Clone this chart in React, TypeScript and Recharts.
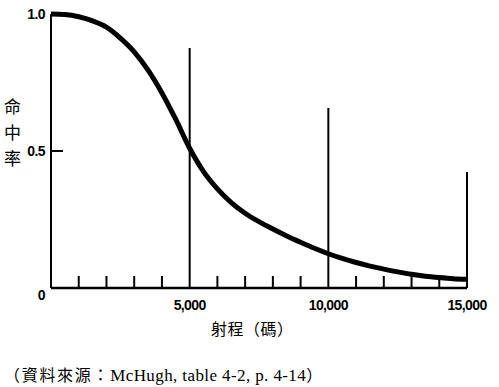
import React from "react";
import { LineChart, Line, XAxis, YAxis, ReferenceLine } from "recharts";

// range in yards
const rangeYards = [0, 500, 1000, 1500, 2000, 2500, 3000, 3500, 4000, 4500, 5000, 5500, 6000, 6500, 7000, 7500, 8000, 8500, 9000, 9500, 10000, 10500, 11000, 11500, 12000, 12500, 13000, 13500, 14000, 14500, 15000];
// hit probability
const hitProb = [1.0, 0.998, 0.99, 0.975, 0.952, 0.912, 0.862, 0.795, 0.712, 0.615, 0.51, 0.425, 0.362, 0.312, 0.273, 0.242, 0.215, 0.19, 0.167, 0.145, 0.125, 0.108, 0.093, 0.08, 0.069, 0.059, 0.05, 0.043, 0.038, 0.034, 0.032];

const xMajorTicks = [5000, 10000, 15000];
const xMinorTicks = [1000, 2000, 3000, 4000, 6000, 7000, 8000, 9000, 11000, 12000, 13000, 14000];
const xTickLabels = ["5,000", "10,000", "15,000"];
const yTickValues = [0, 0.5, 1];
const yTickLabels = ["0", "0.5", "1.0"];

const markerRanges = [5000, 10000, 15000];
const markerHeights = [0.876, 0.657, 0.423];

const yLabelChars = ["命", "中", "率"];
const xTitle = "射程（碼）";
const sourceCjk = "（資料來源：";
const sourceLatin = "McHugh, table 4-2, p. 4-14";
const sourceClose = "）";

const data = rangeYards.map((r, i) => ({ range: r, p: hitProb[i] }));
const allXTicks = [...xMinorTicks, ...xMajorTicks].sort((a, b) => a - b);

const tickFont = "'Liberation Sans', Arial, sans-serif";
const cjkFont = "'Noto Sans CJK TC', 'Noto Sans CJK SC', sans-serif";

const XTick = (props: any) => {
  const { x, y, payload } = props;
  const v = payload.value;
  const idx = xMajorTicks.indexOf(v);
  if (idx >= 0) {
    return (
      <text x={x} y={y + 22} textAnchor="middle" fontFamily={tickFont} fontWeight="bold" fontSize={14} fill="#000" letterSpacing={-0.6}>
        {xTickLabels[idx]}
      </text>
    );
  }
  return <line x1={x} x2={x} y1={y - 12} y2={y} stroke="#000" strokeWidth={2} />;
};

const YTick = (props: any) => {
  const { x, y, payload } = props;
  const v = payload.value;
  const idx = yTickValues.indexOf(v);
  const label = yTickLabels[idx];
  return (
    <g>
      {v === 0.5 && <line x1={x} x2={x + 12} y1={y} y2={y} stroke="#000" strokeWidth={2} />}
      <text x={x - 6} y={v === 0 ? y + 12 : y + 5} textAnchor="end" fontFamily={tickFont} fontWeight="bold" fontSize={14} fill="#000" letterSpacing={-0.6}>
        {label}
      </text>
    </g>
  );
};

export default function App() {
  return (
    <div style={{ position: "absolute", left: 0, top: 0, width: 499, height: 387, background: "#fff" }}>
      <LineChart width={499} height={387} data={data} margin={{ top: 14, left: 50, right: 32, bottom: 98 }}>
        <XAxis
          type="number"
          dataKey="range"
          domain={[0, 15000]}
          ticks={allXTicks}
          interval={0}
          height={1}
          tickSize={0}
          tickMargin={0}
          tickLine={false}
          tick={<XTick />}
          axisLine={{ stroke: "#000", strokeWidth: 2.5 }}
        />
        <YAxis
          type="number"
          domain={[0, 1]}
          ticks={yTickValues}
          interval={0}
          width={1}
          tickSize={0}
          tickMargin={0}
          tickLine={false}
          tick={<YTick />}
          axisLine={{ stroke: "#000", strokeWidth: 2 }}
        />
        {markerRanges.map((r, i) => (
          <ReferenceLine
            key={r}
            segment={[{ x: r, y: 0 }, { x: r, y: markerHeights[i] }]}
            stroke="#000"
            strokeWidth={2}
            ifOverflow="visible"
          />
        ))}
        <Line
          type="monotone"
          dataKey="p"
          stroke="#000"
          strokeWidth={5}
          dot={false}
          isAnimationActive={false}
        />
      </LineChart>
      {yLabelChars.map((c, i) => (
        <div
          key={c}
          style={{ position: "absolute", left: 3, top: 96 + i * 26, width: 19, textAlign: "center", fontFamily: cjkFont, fontSize: 17, lineHeight: "20px", color: "#000" }}
        >
          {c}
        </div>
      ))}
      <div style={{ position: "absolute", left: 211, top: 317, fontFamily: cjkFont, fontSize: 16, letterSpacing: 0.5, lineHeight: "22px", color: "#000", whiteSpace: "nowrap" }}>
        {xTitle}
      </div>
      <div style={{ position: "absolute", left: 4, top: 363, fontSize: 16, lineHeight: "22px", color: "#000", whiteSpace: "nowrap" }}>
        <span style={{ fontFamily: cjkFont, letterSpacing: 1.7 }}>{sourceCjk}</span>
        <span style={{ fontFamily: "'Liberation Serif', serif", fontSize: 17, letterSpacing: 0.4 }}>{sourceLatin}</span>
        <span style={{ fontFamily: cjkFont }}>{sourceClose}</span>
      </div>
    </div>
  );
}
